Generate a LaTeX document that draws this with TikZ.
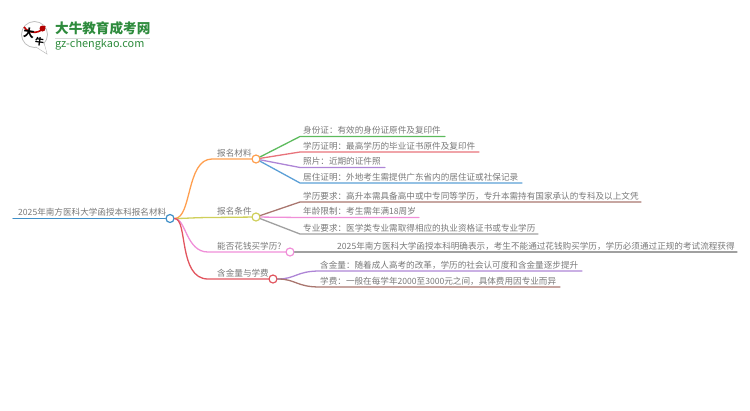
\documentclass[tikz,border=0pt]{standalone}
\usepackage{fontspec}
\setmainfont{Noto Sans CJK SC}
\usetikzlibrary{calc}
\definecolor{cTxt}{HTML}{787878}
\definecolor{cRoot}{HTML}{3F8FC8}
\definecolor{cOrange}{HTML}{FF9F4F}
\definecolor{cOlive}{HTML}{CFCF5A}
\definecolor{cPink}{HTML}{F08FD8}
\definecolor{cRed}{HTML}{E2555F}
\definecolor{cGreen}{HTML}{5DBB5D}
\definecolor{cSalmon}{HTML}{E8737B}
\definecolor{cPurple}{HTML}{AE85D6}
\definecolor{cBlue}{HTML}{5B9FD6}
\definecolor{cBrown}{HTML}{A9766F}
\definecolor{cGray}{HTML}{A0A0A0}
\definecolor{cLogo}{HTML}{2E8B3D}
\tikzset{
  lbl/.style={font=\fontsize{8.6}{10}\selectfont,text=cTxt,inner sep=0pt,anchor=base west},
  dot/.style={circle,draw=#1,fill=white,line width=1.2pt,minimum size=8pt,inner sep=0pt},
  conn/.style={line width=1.3pt,line cap=round},
}
\begin{document}
\begin{tikzpicture}[x=1pt,y=-1pt]
\useasboundingbox (0,0) rectangle (750,410);
% logo
\path[fill=white,draw=black!25,line width=.6pt] (36,47) -- (47,54) -- (44,43);
\draw[black!25,line width=.8pt,fill=white] (34.5,34.5) circle (13);
\fill[white] (36,46.5) -- (46.5,52.8) -- (43,42) -- cycle;
\draw[red!75!black,line width=1.6pt] (24,27) arc (145:30:12.5);
\fill[red!70!black] (42.5,28.5) circle (3);
\node[inner sep=0pt,font=\fontsize{11}{11}\selectfont\bfseries,rotate=-8] (logoA) at (29,33) {大};
\node[inner sep=0pt,font=\fontsize{9}{9}\selectfont\bfseries,rotate=-8] (logoB) at (39.5,42) {牛};
\node[inner sep=0pt,anchor=west,text=cLogo,font=\fontsize{13.6}{14}\selectfont\bfseries] (logoT) at (55,28.5) {大牛教育成考网};
\node[inner sep=0pt,anchor=west,text=cLogo,font=\fontsize{10.9}{11}\selectfont] (logoU) at (55,45) {gz-chengkao.com};
\draw[black!15,line width=.6pt] (55,38.5) -- (150,38.5);
% main nodes
\coordinate (rootL) at (13,218.5);
\node[dot=cRoot] (root) at (170,218.5) {};
\node[dot=cOrange] (b1) at (256,159) {};
\node[dot=cOlive] (b2) at (256,217) {};
\node[dot=cPink] (b3) at (290,252) {};
\node[dot=cRed] (b4) at (273,279) {};
\coordinate (b1a) at (212,159);
\coordinate (b2a) at (212,217.5);
\coordinate (b3a) at (208,252);
\coordinate (b4a) at (208,279);
% leaf ends
\foreach \n/\xa/\xb/\yy in {l1/300/445/136.5,l2/300/479/152,l3/300/385/167.5,l4/300/522/183,
  l5/300/641/202,l6/300/419/217.5,l7/300/538/234,l8/295/737/252,l9/320/582/271,l10/320/560/287}
  {\coordinate (\n a) at (\xa,\yy); \coordinate (\n b) at (\xb,\yy);}
% connectors
\draw[conn,cRoot] (rootL) -- (root);
\draw[conn,cOrange] (root) .. controls (192,218.5) and (186,159) .. (b1a) -- (b1);
\draw[conn,cOlive] (root) .. controls (185,218.5) and (195,217.5) .. (b2a) -- (b2);
\draw[conn,cPink] (root) .. controls (186,218.5) and (186,252) .. (b3a) -- (b3);
\draw[conn,cRed] (root) .. controls (188,218.5) and (178,279) .. (b4a) -- (b4);
\foreach \br/\lf/\c in {b1/l1/cGreen,b1/l2/cSalmon,b1/l3/cPurple,b1/l4/cBlue,
  b2/l5/cBrown,b2/l6/cPink,b2/l7/cGray}
  {\draw[conn,\c] (\br) .. controls ($(\br)!.5!(\lf a)$ |- \br) and ($(\br)!.5!(\lf a)$ |- \lf a) .. (\lf a) -- (\lf b);}
\draw[conn,cGray] (b3) -- (l8a) -- (l8b);
\draw[conn,cPurple] (b4) .. controls (296,279) and (296,271) .. (l9a) -- (l9b);
\draw[conn,cBrown] (b4) .. controls (296,279) and (296,287) .. (l10a) -- (l10b);
% labels
\node[lbl] (tRoot) at (18,215.5) {2025年南方医科大学函授本科报名材料};
\node[lbl] (tB1) at (217,156) {报名材料};
\node[lbl] (tB2) at (217,214.5) {报名条件};
\node[lbl] (tB3) at (217,249) {能否花钱买学历?};
\node[lbl] (tB4) at (217,276) {含金量与学费};
\node[lbl] (t1) at (303,133.5) {身份证：有效的身份证原件及复印件};
\node[lbl] (t2) at (303,149) {学历证明：最高学历的毕业证书原件及复印件};
\node[lbl] (t3) at (303,164.5) {照片：近期的证件照};
\node[lbl] (t4) at (303,180) {居住证明：外地考生需提供广东省内的居住证或社保记录};
\node[lbl] (t5) at (303,199) {学历要求：高升本需具备高中或中专同等学历，专升本需持有国家承认的专科及以上文凭};
\node[lbl] (t6) at (303,214.5) {年龄限制：考生需年满18周岁};
\node[lbl] (t7) at (303,231) {专业要求：医学类专业需取得相应的执业资格证书或专业学历};
\node[lbl] (t8) at (337,249) {2025年南方医科大学函授本科明确表示，考生不能通过花钱购买学历，学历必须通过正规的考试流程获得};
\node[lbl] (t9) at (320,268) {含金量：随着成人高考的改革，学历的社会认可度和含金量逐步提升};
\node[lbl] (t10) at (320,284) {学费：一般在每学年2000至3000元之间，具体费用因专业而异};
\end{tikzpicture}
\end{document}
